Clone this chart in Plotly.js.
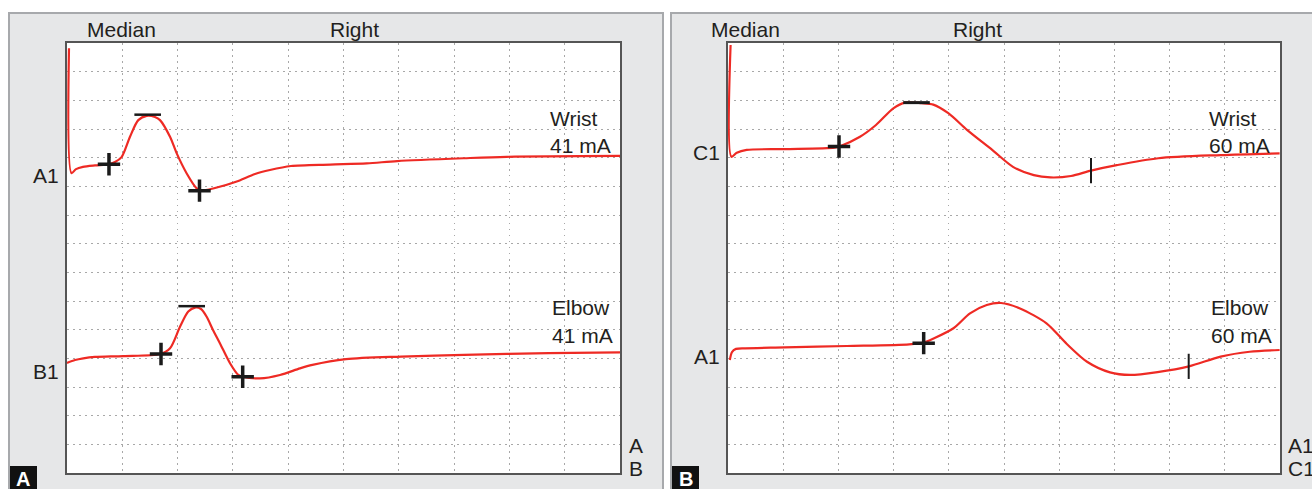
<!DOCTYPE html>
<html>
<head>
<meta charset="utf-8">
<script src="https://cdn.plot.ly/plotly-3.0.1.min.js"></script>
<style>
  html, body { margin: 0; padding: 0; background: #ffffff; }
  #chart { width: 1312px; height: 489px; }
</style>
</head>
<body>
<div id="chart"></div>
<script>
// ---------------- DATA (x in horizontal divisions 0-10, y in vertical divisions 0-15) ----------------
// Panel A - upper trace (Wrist, 41 mA)
const wristA_x = [0.036, 0.081, 0.163, 0.289, 0.506, 0.759, 0.868, 0.987, 1.139, 1.289, 1.441, 1.591, 1.682, 1.863, 1.984, 2.165, 2.345, 2.423, 2.676, 3.056, 3.40, 3.67, 4.05, 4.76, 5.42, 5.97, 7.18, 7.95, 10.0];
const wristA_y = [14.82, 10.46, 10.60, 10.68, 10.73, 10.77, 10.85, 11.02, 11.73, 12.31, 12.46, 12.42, 12.31, 11.73, 11.15, 10.45, 9.93, 9.85, 9.94, 10.16, 10.43, 10.57, 10.71, 10.76, 10.80, 10.88, 10.98, 11.03, 11.06];
// Panel A - lower trace (Elbow, 41 mA)
const elbowA_x = [0.0, 0.145, 0.295, 0.506, 1.018, 1.682, 1.863, 2.043, 2.193, 2.315, 2.423, 2.526, 2.640, 2.767, 2.948, 3.098, 3.183, 3.490, 3.852, 4.213, 4.438, 5.045, 6.040, 7.179, 8.712, 10.0];
const elbowA_y = [3.84, 3.94, 4.00, 4.05, 4.08, 4.15, 4.35, 5.10, 5.63, 5.77, 5.72, 5.45, 4.99, 4.52, 3.83, 3.42, 3.35, 3.30, 3.42, 3.65, 3.77, 3.97, 4.06, 4.12, 4.18, 4.21];
// Panel B - upper trace (Wrist, 60 mA)
const wristB_x = [0.047, 0.062, 0.159, 0.339, 1.025, 1.928, 2.029, 2.391, 2.681, 2.995, 3.207, 3.507, 3.719, 3.991, 4.335, 4.786, 5.163, 5.540, 5.841, 6.214, 6.576, 7.043, 7.795, 8.924, 9.993];
const wristB_y = [14.93, 11.03, 11.17, 11.27, 11.30, 11.35, 11.40, 11.73, 12.14, 12.72, 12.92, 12.90, 12.85, 12.55, 11.96, 11.27, 10.68, 10.39, 10.31, 10.36, 10.55, 10.74, 10.98, 11.09, 11.15];
// Panel B - lower trace (Elbow, 60 mA)
const elbowB_x = [0.033, 0.072, 0.145, 0.310, 1.025, 2.154, 3.283, 3.542, 3.732, 4.085, 4.384, 4.687, 4.946, 5.290, 5.770, 6.138, 6.504, 6.920, 7.283, 7.781, 8.351, 8.924, 9.451, 9.993];
const elbowB_y = [3.94, 4.22, 4.33, 4.35, 4.38, 4.43, 4.49, 4.55, 4.70, 5.05, 5.57, 5.86, 5.93, 5.74, 5.22, 4.50, 3.88, 3.51, 3.42, 3.52, 3.72, 4.06, 4.23, 4.29];

// Cursor marks
const plusA_x = [0.759, 2.396, 1.700, 3.177];
const plusA_y = [10.77, 9.85, 4.15, 3.36];
const dashA_x = [1.459, 2.255];
const dashA_y = [12.50, 5.82];
const plusB_x = [2.011, 3.545];
const plusB_y = [11.39, 4.53];
const dashB_x = [3.415];
const dashB_y = [12.92];
const barB_x = [6.576, 8.346];
const barB_y = [10.55, 3.72];

// Text labels
const panelHeaders = ['Median', 'Right'];
const panelLetters = ['A', 'B'];
const traceNamesA = ['A1', 'B1'];
const traceNamesB = ['C1', 'A1'];
const siteLabels = ['Wrist', 'Elbow'];
const intensityA = '41 mA';
const intensityB = '60 mA';
const cornerA = ['A', 'B'];
const cornerB = ['A1', 'C1'];

// ---------------- LAYOUT ----------------
const W = 1312, H = 489;
const px = v => v / W;
const py = v => 1 - v / H;
const RED = '#ee2a24';
const INK = '#231f20';
const FONT = 'Liberation Sans, Arial, sans-serif';

function lineTrace(x, y, xa, ya) {
  return { x: x, y: y, xaxis: xa, yaxis: ya, type: 'scatter', mode: 'lines',
    line: { color: RED, width: 2.2, shape: 'spline', smoothing: 0.8 }, hoverinfo: 'skip', showlegend: false };
}
function markTrace(x, y, xa, ya, symbol, size, w) {
  return { x: x, y: y, xaxis: xa, yaxis: ya, type: 'scatter', mode: 'markers',
    marker: { symbol: symbol, size: size, color: '#1a1a1a', line: { color: '#1a1a1a', width: w } },
    hoverinfo: 'skip', showlegend: false };
}

const data = [
  lineTrace(wristA_x, wristA_y, 'x', 'y'),
  lineTrace(elbowA_x, elbowA_y, 'x', 'y'),
  lineTrace(wristB_x, wristB_y, 'x2', 'y2'),
  lineTrace(elbowB_x, elbowB_y, 'x2', 'y2'),
  markTrace(plusA_x, plusA_y, 'x', 'y', 'cross-thin', 16, 3.5),
  markTrace(dashA_x, dashA_y, 'x', 'y', 'line-ew', 19, 2.5),
  markTrace(plusB_x, plusB_y, 'x2', 'y2', 'cross-thin', 16, 3.5),
  markTrace(dashB_x, dashB_y, 'x2', 'y2', 'line-ew', 19, 3),
  markTrace(barB_x, barB_y, 'x2', 'y2', 'line-ns', 18, 2)
];

function xAx(d0, d1, anchor) {
  return { domain: [px(d0), px(d1)], range: [0, 10], dtick: 1, tick0: 0, anchor: anchor,
    showgrid: true, gridcolor: '#a8a8a8', gridwidth: 1, griddash: '1.5px,4.5px',
    zeroline: false, showticklabels: false, ticks: '',
    showline: true, linecolor: '#555555', linewidth: 2, mirror: true, fixedrange: true };
}
function yAx(anchor) {
  return { domain: [py(473), py(43)], range: [0, 15], dtick: 1, tick0: 0, anchor: anchor,
    showgrid: true, gridcolor: '#a8a8a8', gridwidth: 1, griddash: '1.5px,4.5px',
    zeroline: false, showticklabels: false, ticks: '',
    showline: true, linecolor: '#555555', linewidth: 2, mirror: true, fixedrange: true };
}

function txt(text, x, y, anchor, opts) {
  return Object.assign({ text: text, x: px(x), y: py(y), xref: 'paper', yref: 'paper',
    xanchor: anchor, yanchor: 'middle', showarrow: false,
    font: { family: FONT, size: 21, color: INK } }, opts || {});
}

const annotations = [
  // headers
  txt(panelHeaders[0], 85, 30, 'left'),
  txt(panelHeaders[1], 328, 30, 'left'),
  txt(panelHeaders[0], 709, 30, 'left'),
  txt(panelHeaders[1], 951, 30, 'left'),
  // trace names
  txt(traceNamesA[0], 61, 175, 'right'),
  txt(traceNamesA[1], 61, 371, 'right'),
  txt(traceNamesB[0], 722, 153, 'right'),
  txt(traceNamesB[1], 722, 356, 'right'),
  // site + intensity
  txt(siteLabels[0], 548, 119, 'left'),
  txt(intensityA, 548, 145, 'left'),
  txt(siteLabels[1], 550, 307, 'left'),
  txt(intensityA, 550, 335, 'left'),
  txt(siteLabels[0], 1207, 119, 'left'),
  txt(intensityB, 1207, 145, 'left'),
  txt(siteLabels[1], 1209, 307, 'left'),
  txt(intensityB, 1209, 335, 'left'),
  // corner labels (the right-hand pair is cut by the image edge, as in the reference)
  txt(cornerA[0], 627, 445, 'left'),
  txt(cornerA[1], 627, 468, 'left'),
  txt(cornerB[0], 1286, 445, 'left'),
  txt(cornerB[1], 1286, 468, 'left'),
  // panel letters
  txt(panelLetters[0], 23.5, 479, 'center', { font: { family: FONT, size: 20, color: '#ffffff', weight: 'bold' } }),
  txt(panelLetters[1], 685.5, 479, 'center', { font: { family: FONT, size: 20, color: '#ffffff', weight: 'bold' } })
];

function rect(x0, y0, x1, y1, fill, lc, lw, layer) {
  return { type: 'rect', xref: 'paper', yref: 'paper', x0: px(x0), x1: px(x1), y0: py(y1), y1: py(y0),
    fillcolor: fill, line: { color: lc, width: lw }, layer: layer || 'below' };
}

const shapes = [
  rect(9, 13, 663, 500, '#e6e7e8', '#a7a9ac', 2),
  rect(671, 13, 1330, 500, '#e6e7e8', '#a7a9ac', 2),
  rect(67, 43, 620, 473, '#ffffff', 'rgba(0,0,0,0)', 0),
  rect(728, 43, 1280, 473, '#ffffff', 'rgba(0,0,0,0)', 0),
  rect(10, 466, 37, 492, '#111111', 'rgba(0,0,0,0)', 0, 'above'),
  rect(672, 466, 699, 492, '#111111', 'rgba(0,0,0,0)', 0, 'above')
];

const layout = {
  width: W, height: H, autosize: false,
  margin: { l: 0, r: 0, t: 0, b: 0, pad: 0 },
  paper_bgcolor: '#ffffff', plot_bgcolor: 'rgba(0,0,0,0)',
  showlegend: false,
  xaxis: xAx(67, 620, 'y'),
  yaxis: yAx('x'),
  xaxis2: xAx(728, 1280, 'y2'),
  yaxis2: yAx('x2'),
  shapes: shapes,
  annotations: annotations
};

Plotly.newPlot('chart', data, layout, { displayModeBar: false, staticPlot: true });
</script>
</body>
</html>
